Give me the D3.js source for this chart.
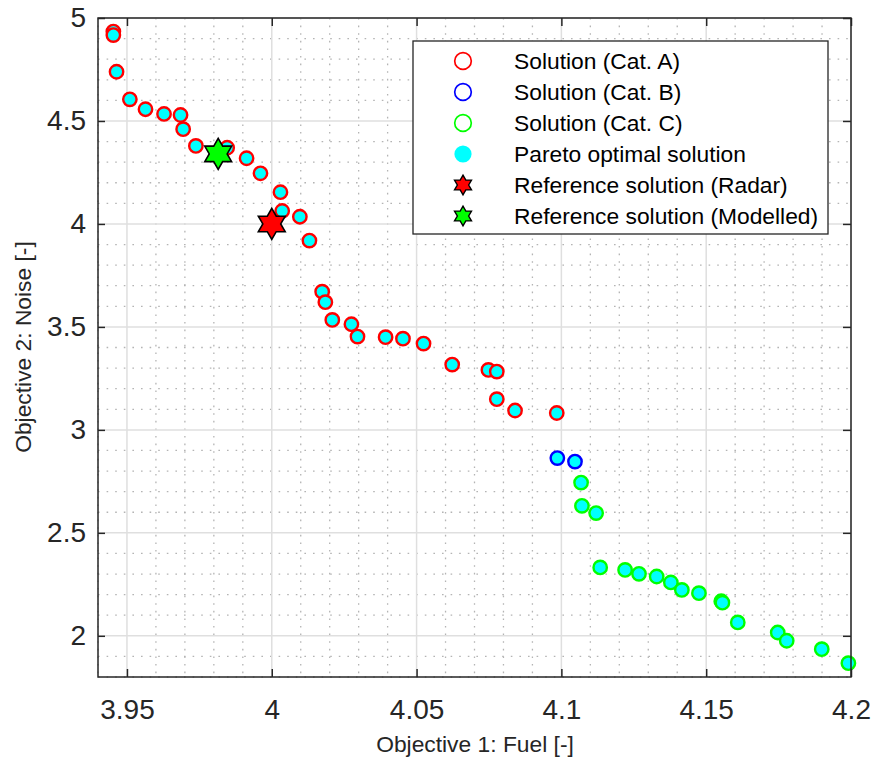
<!DOCTYPE html>
<html>
<head>
<meta charset="utf-8">
<script src="https://cdn.jsdelivr.net/npm/d3@7"></script>
<style>
body { margin: 0; background: #fff; }
text { font-family: "Liberation Sans", Arial, Helvetica, sans-serif; }
</style>
</head>
<body>
<svg id="chart" width="875" height="762"></svg>
<script>
// values
const catAFuel = [3.9453, 3.9453, 3.9464, 3.9510, 3.9564, 3.9628, 3.9685, 3.9694, 3.9738, 3.9846,
    3.9913, 3.9961, 4.0030, 4.0036, 4.0097, 4.0130, 4.0174, 4.0185, 4.0209, 4.0275,
    4.0296, 4.0393, 4.0453, 4.0524, 4.0623, 4.0748, 4.0777, 4.0777, 4.0840, 4.0984];
const catANoise = [4.934, 4.917, 4.739, 4.605, 4.557, 4.534, 4.529, 4.460, 4.379, 4.370,
    4.319, 4.246, 4.154, 4.063, 4.035, 3.919, 3.671, 3.620, 3.534, 3.513,
    3.453, 3.450, 3.443, 3.419, 3.317, 3.291, 3.283, 3.149, 3.094, 3.082];

const catBFuel = [4.0986, 4.1047];
const catBNoise = [2.863, 2.846];

const catCFuel = [4.1068, 4.1071, 4.1120, 4.1134, 4.1220, 4.1268, 4.1329, 4.1378, 4.1416, 4.1475,
    4.1552, 4.1556, 4.1609, 4.1747, 4.1778, 4.1899, 4.1991];
const catCNoise = [2.744, 2.631, 2.596, 2.332, 2.320, 2.301, 2.288, 2.259, 2.223, 2.207,
    2.168, 2.161, 2.065, 2.016, 1.976, 1.935, 1.867];

const refRadar = [4.0, 4.0];
const refModelled = [3.9815, 4.34];

const xTicks = [3.95, 4, 4.05, 4.1, 4.15, 4.2];
const yTicks = [2, 2.5, 3, 3.5, 4, 4.5, 5];

const legendLabels = ["Solution (Cat. A)", "Solution (Cat. B)", "Solution (Cat. C)",
    "Pareto optimal solution", "Reference solution (Radar)", "Reference solution (Modelled)"];

const axisColor = "#262626";
const fontFam = '"Liberation Sans", Arial, Helvetica, sans-serif';

const svg = d3.select("#chart");

const x = d3.scaleLinear().domain([3.94, 4.2]).range([98, 851]);
const y = d3.scaleLinear().domain([1.8, 5]).range([677, 18]);

// minor grid (dotted) and major grid
const xMinor = d3.range(394, 421).filter(v => v % 5 !== 0).map(v => v / 100);
const yMinor = d3.range(18, 51).filter(v => v % 5 !== 0).map(v => v / 10);

const grid = svg.append("g");
grid.selectAll(".xminor").data(xMinor).enter().append("line")
    .attr("x1", d => x(d)).attr("x2", d => x(d))
    .attr("y1", y(5)).attr("y2", y(1.8))
    .attr("stroke", "#b4b4b4").attr("stroke-width", 1.3)
    .attr("stroke-dasharray", "1.6,6");
grid.selectAll(".yminor").data(yMinor).enter().append("line")
    .attr("x1", x(3.94)).attr("x2", x(4.2))
    .attr("y1", d => y(d)).attr("y2", d => y(d))
    .attr("stroke", "#b4b4b4").attr("stroke-width", 1.3)
    .attr("stroke-dasharray", "1.6,7");
grid.selectAll(".xmajor").data(xTicks).enter().append("line")
    .attr("x1", d => x(d)).attr("x2", d => x(d))
    .attr("y1", y(5)).attr("y2", y(1.8))
    .attr("stroke", "#dfdfdf").attr("stroke-width", 1.5);
grid.selectAll(".ymajor").data(yTicks).enter().append("line")
    .attr("x1", x(3.94)).attr("x2", x(4.2))
    .attr("y1", d => y(d)).attr("y2", d => y(d))
    .attr("stroke", "#dfdfdf").attr("stroke-width", 1.5);

// hexagram path
function hexagram(R) {
    const pts = d3.range(12).map(i => {
        const a = (-90 + i * 30) * Math.PI / 180;
        const r = i % 2 === 0 ? R : R / Math.sqrt(3);
        return [r * Math.cos(a), r * Math.sin(a)];
    });
    return "M" + pts.map(p => p.join(",")).join("L") + "Z";
}

// solutions
const series = [
    { fuel: catAFuel, noise: catANoise, color: "#ff0000" },
    { fuel: catBFuel, noise: catBNoise, color: "#0000ff" },
    { fuel: catCFuel, noise: catCNoise, color: "#00ff00" }
];

const pts = svg.append("g");
series.forEach(s => {
    const rows = s.fuel.map((f, i) => ({ f: f, n: s.noise[i] }));
    pts.selectAll(null).data(rows).enter().append("circle")
        .attr("cx", d => x(d.f))
        .attr("cy", d => y(d.n))
        .attr("r", 6.7)
        .attr("fill", "#00ffff")
        .attr("stroke", s.color)
        .attr("stroke-width", 2.4);
});

// reference stars
const stars = [
    { v: refRadar, color: "#ff0000" },
    { v: refModelled, color: "#00ff00" }
];
svg.append("g").selectAll("path").data(stars).enter().append("path")
    .attr("transform", d => `translate(${x(d.v[0])},${y(d.v[1])})`)
    .attr("d", hexagram(15.5))
    .attr("fill", d => d.color)
    .attr("stroke", "#000")
    .attr("stroke-width", 1.6)
    .attr("stroke-linejoin", "miter");

// axes
function styleAxis(g) {
    g.select(".domain").remove();
    g.selectAll(".tick line").attr("stroke", axisColor).attr("stroke-width", 1.5);
    g.selectAll("text").attr("fill", axisColor).style("font-size", "28px").style("font-family", fontFam);
}

svg.append("g")
    .attr("transform", "translate(0,677)")
    .call(d3.axisBottom(x).tickValues(xTicks).tickFormat(d => String(d)).tickSizeInner(-8).tickSizeOuter(0).tickPadding(22))
    .call(styleAxis);
svg.append("g")
    .attr("transform", "translate(0,18)")
    .call(d3.axisTop(x).tickValues(xTicks).tickFormat("").tickSizeInner(-8).tickSizeOuter(0))
    .call(styleAxis);
svg.append("g")
    .attr("transform", "translate(98,0)")
    .call(d3.axisLeft(y).tickValues(yTicks).tickFormat(d => String(d)).tickSizeInner(-7).tickSizeOuter(0).tickPadding(12))
    .call(styleAxis);
svg.append("g")
    .attr("transform", "translate(851,0)")
    .call(d3.axisRight(y).tickValues(yTicks).tickFormat("").tickSizeInner(-8).tickSizeOuter(0))
    .call(styleAxis);

// box
svg.append("rect")
    .attr("x", 98).attr("y", 18)
    .attr("width", 851 - 98).attr("height", 677 - 18)
    .attr("fill", "none")
    .attr("stroke", axisColor)
    .attr("stroke-width", 1.5);

// axis titles
svg.append("text")
    .attr("x", 475)
    .attr("y", 752)
    .attr("text-anchor", "middle")
    .attr("fill", axisColor)
    .style("font-size", "22.8px")
    .text("Objective 1: Fuel [-]");

svg.append("text")
    .attr("transform", "translate(31,347) rotate(-90)")
    .attr("text-anchor", "middle")
    .attr("fill", axisColor)
    .style("font-size", "22.8px")
    .text("Objective 2: Noise [-]");

// legend
const legend = svg.append("g");
legend.append("rect")
    .attr("x", 413).attr("y", 41)
    .attr("width", 415).attr("height", 193)
    .attr("fill", "#fff")
    .attr("stroke", axisColor)
    .attr("stroke-width", 1.3);

const markerKinds = [
    { type: "ring", color: "#ff0000" },
    { type: "ring", color: "#0000ff" },
    { type: "ring", color: "#00ff00" },
    { type: "dot", color: "#00ffff" },
    { type: "star", color: "#ff0000" },
    { type: "star", color: "#00ff00" }
];

legendLabels.forEach((label, i) => {
    const row = legend.append("g").attr("transform", `translate(0,${61 + i * 31})`);
    const m = markerKinds[i];
    if (m.type === "ring") {
        row.append("circle").attr("cx", 463).attr("cy", 0).attr("r", 8.3)
            .attr("fill", "none").attr("stroke", m.color).attr("stroke-width", 1.7);
    } else if (m.type === "dot") {
        row.append("circle").attr("cx", 463).attr("cy", 0).attr("r", 8.6)
            .attr("fill", m.color);
    } else {
        row.append("path").attr("transform", "translate(463,0)")
            .attr("d", hexagram(9.8))
            .attr("fill", m.color).attr("stroke", "#000").attr("stroke-width", 1.4);
    }
    row.append("text")
        .attr("x", 514)
        .attr("y", 8)
        .attr("fill", "#000")
        .style("font-size", "22.8px")
        .text(label);
});
</script>
</body>
</html>
